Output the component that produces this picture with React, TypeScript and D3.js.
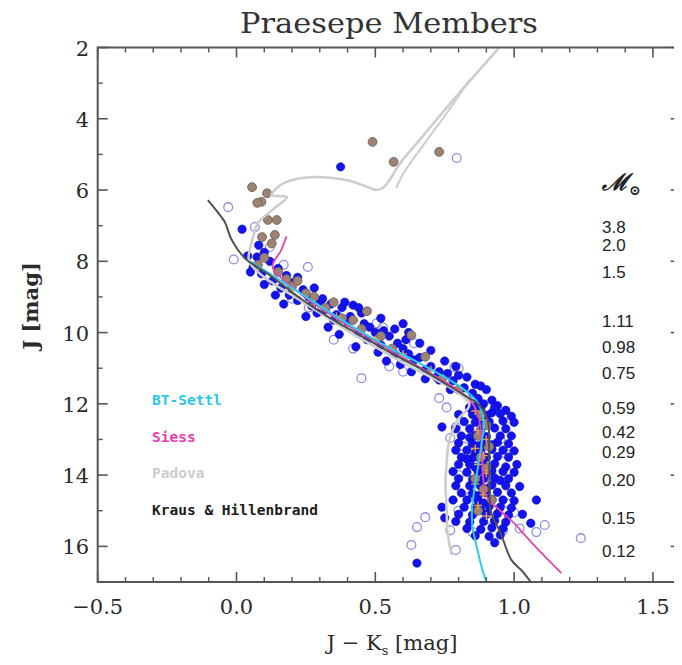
import React from "react";
import * as d3 from "d3";

// ---- Axis ticks ----
const xMajorTicks = [-0.5, 0.0, 0.5, 1.0, 1.5];
const yMajorTicks = [2, 4, 6, 8, 10, 12, 14, 16];

// ---- Mass scale labels (solar masses) and the J level at which each sits ----
const massLabels = ["3.8", "2.0", "1.5", "1.11", "0.98", "0.75", "0.59", "0.42", "0.29", "0.20", "0.15", "0.12"];
const massLabelJ = [7.05, 7.55, 8.3, 9.68, 10.41, 11.14, 12.12, 12.80, 13.36, 14.15, 15.19, 16.14];

// ---- Legend ----
const legendNames = ["BT-Settl", "Siess", "Padova", "Kraus & Hillenbrand"];
const legendColors = ["#2cc6ec", "#e83cb4", "#cccccc", "#1c1c1c"];

// ---- Model isochrones: [J-Ks, J] ----
const btSettl: [number, number][] = [
  [0.05, 8.0], [0.15, 8.5], [0.25, 9.0], [0.35, 9.5], [0.45, 9.98], [0.55, 10.42], [0.65, 10.82],
  [0.75, 11.25], [0.82, 11.6], [0.87, 11.98], [0.89, 12.5], [0.885, 13.0], [0.875, 13.5],
  [0.865, 14.0], [0.855, 14.5], [0.848, 15.0], [0.85, 15.46], [0.865, 16.0], [0.883, 16.58], [0.9, 17.0],
];
const siess: [number, number][] = [
  [0.18, 7.3], [0.16, 7.7], [0.13, 8.15], [0.2, 8.72], [0.3, 9.3], [0.4, 9.8], [0.5, 10.25],
  [0.6, 10.7], [0.7, 11.15], [0.78, 11.52], [0.84, 11.88], [0.87, 12.3], [0.88, 12.8],
  [0.885, 13.5], [0.89, 14.2], [0.9, 14.6], [0.95, 15.0], [1.0, 15.35], [1.045, 15.74],
  [1.1, 16.2], [1.17, 16.75],
];
const padova: [number, number][] = [
  [0.775, 16.25], [0.76, 15.6], [0.757, 14.98], [0.753, 14.3], [0.755, 13.86], [0.767, 13.02],
  [0.796, 12.46], [0.839, 12.03], [0.8, 11.7], [0.7, 11.25], [0.6, 10.85], [0.5, 10.4],
  [0.4, 9.95], [0.3, 9.45], [0.2, 8.95], [0.1, 8.45], [0.045, 8.0], [0.05, 7.6], [0.062, 7.25],
  [0.077, 6.93], [0.13, 6.55], [0.181, 6.2], [0.127, 6.14], [0.16, 5.85], [0.192, 5.74],
  [0.25, 5.65], [0.311, 5.64], [0.38, 5.7], [0.433, 5.8], [0.48, 5.94], [0.505, 6.0],
  [0.53, 5.92], [0.551, 5.72], [0.575, 5.42], [0.598, 5.16], [0.659, 4.6], [0.75, 3.75],
  [0.85, 2.85], [0.947, 2.0],
];
const padovaUpper: [number, number][] = [
  [0.575, 5.95], [0.6, 5.55], [0.63, 5.2], [0.7, 4.45], [0.77, 3.7], [0.84, 2.9],
];
const krausHillenbrand: [number, number][] = [
  [-0.103, 6.28], [-0.07, 6.6], [-0.042, 6.9], [-0.03, 7.15], [-0.017, 7.4], [0.03, 7.91],
  [0.12, 8.39], [0.228, 9.03], [0.336, 9.59], [0.444, 10.07], [0.551, 10.55], [0.659, 11.0],
  [0.749, 11.42], [0.821, 11.76], [0.875, 12.04], [0.905, 12.46], [0.91, 13.3], [0.911, 14.14],
  [0.912, 14.7], [0.918, 15.07], [0.95, 15.6], [0.99, 16.38], [1.03, 16.7], [1.06, 17.0],
];

// ---- Cluster members ----
const blueMembers: [number, number][] = [
  [0.375, 5.35], [0.02, 7.1], [0.074, 7.88], [0.08, 7.55], [0.1, 7.75], [0.04, 7.85], [0.12, 8.0],
  [0.06, 8.15], [0.15, 8.2], [0.09, 8.35], [0.18, 8.4], [0.13, 8.55], [0.2, 8.6], [0.16, 8.75],
  [0.24, 8.8], [0.19, 8.95], [0.26, 9.0], [0.22, 9.1], [0.3, 9.15], [0.27, 9.25], [0.34, 9.2],
  [0.32, 9.35], [0.38, 9.3], [0.29, 9.45], [0.36, 9.5], [0.41, 9.55], [0.35, 9.65], [0.42, 9.23],
  [0.45, 9.45], [0.4, 9.7], [0.46, 9.75], [0.5, 10.0], [0.48, 9.85], [0.53, 9.95], [0.44, 10.0],
  [0.55, 10.1], [0.61, 10.2], [0.58, 10.3], [0.52, 10.35], [0.64, 10.77], [0.6, 10.45],
  [0.62, 10.6], [0.57, 10.6], [0.66, 10.7], [0.7, 10.95], [0.68, 11.05], [0.73, 11.1],
  [0.76, 11.15], [0.72, 11.25], [0.8, 11.2], [0.83, 11.25], [0.78, 11.35], [0.86, 11.45],
  [0.88, 11.5], [0.82, 11.55], [0.85, 11.7], [0.9, 11.6], [0.87, 11.85], [0.92, 11.9],
  [0.89, 12.0], [0.94, 12.05], [0.84, 12.1], [0.73, 11.33], [0.92, 12.25], [0.74, 12.65],
  [0.05, 8.3], [0.1, 8.65], [0.14, 8.95], [0.22, 8.45], [0.28, 8.75], [0.17, 9.2], [0.25, 9.55],
  [0.33, 9.85], [0.39, 9.15], [0.44, 9.3], [0.31, 9.05], [0.37, 10.05], [0.47, 10.2], [0.51, 10.55],
  [0.43, 10.4], [0.54, 10.8], [0.59, 10.9], [0.63, 11.1], [0.52, 9.6], [0.57, 9.9], [0.62, 10.0],
  [0.66, 10.3], [0.7, 10.5], [0.75, 10.8], [0.79, 10.95], [0.6, 9.75], [0.68, 11.3], [0.77, 11.6],
  [0.84, 12.12], [0.88, 12.15], [0.93, 12.1], [0.97, 12.18], [0.86, 12.08],
  [0.8, 12.3], [0.85, 12.3], [0.9, 12.32], [0.95, 12.28], [0.99, 12.35], [0.87, 12.4],
  [0.82, 12.5], [0.86, 12.52], [0.91, 12.5], [0.96, 12.48], [0.89, 12.55], [1.0, 12.52],
  [0.79, 12.7], [0.84, 12.7], [0.88, 12.72], [0.93, 12.68], [0.97, 12.7],
  [0.81, 12.9], [0.86, 12.88], [0.9, 12.92], [0.95, 12.9], [0.99, 12.9], [0.84, 12.95],
  [0.8, 13.1], [0.85, 13.12], [0.89, 13.1], [0.94, 13.08], [0.98, 13.12], [0.87, 13.18], [0.92, 13.15],
  [0.79, 13.3], [0.83, 13.3], [0.88, 13.32], [0.92, 13.28], [0.96, 13.3], [1.0, 13.32], [0.86, 13.38],
  [0.81, 13.5], [0.85, 13.52], [0.9, 13.5], [0.94, 13.48], [0.98, 13.5], [0.88, 13.58], [0.83, 13.55],
  [0.8, 13.7], [0.84, 13.7], [0.89, 13.72], [0.93, 13.68], [0.97, 13.77], [1.01, 13.7], [0.86, 13.78],
  [0.78, 13.9], [0.83, 13.92], [0.87, 13.9], [0.92, 13.88], [0.96, 13.9], [0.9, 13.96], [1.0, 13.92],
  [0.8, 14.1], [0.85, 14.12], [0.89, 14.1], [0.93, 14.08], [0.98, 14.1], [0.87, 14.18], [0.95, 14.15],
  [0.79, 14.3], [0.84, 14.3], [0.88, 14.32], [0.92, 14.28], [0.97, 14.3], [1.02, 14.32], [0.9, 14.38],
  [0.81, 14.5], [0.85, 14.52], [0.9, 14.5], [0.94, 14.48], [0.99, 14.5], [0.87, 14.58], [1.08, 14.7],
  [0.78, 14.7], [0.83, 14.7], [0.87, 14.72], [0.92, 14.68], [0.96, 14.7], [1.0, 14.72], [0.89, 14.78],
  [0.74, 14.9], [0.82, 14.9], [0.86, 14.92], [0.91, 14.88], [0.95, 14.9], [0.99, 14.92], [0.88, 14.98],
  [0.75, 15.2], [0.8, 15.1], [0.85, 15.12], [0.9, 15.1], [0.94, 15.08], [0.98, 15.12], [1.03, 15.1],
  [0.79, 15.3], [0.84, 15.32], [0.89, 15.3], [0.93, 15.28], [0.97, 15.32], [1.06, 15.35],
  [0.83, 15.5], [0.88, 15.52], [0.92, 15.48], [0.96, 15.5],
  [0.86, 15.7], [0.91, 15.72], [0.95, 15.68], [0.93, 15.9], [0.65, 16.47],
];
const openMembers: [number, number][] = [
  [0.793, 5.1], [-0.03, 6.48], [0.066, 7.04], [0.12, 7.6], [-0.01, 7.95], [0.257, 8.16],
  [0.17, 8.1], [0.2, 9.05], [0.26, 9.3], [0.3, 9.3], [0.38, 9.7], [0.505, 9.74], [0.527, 9.85],
  [0.64, 10.3], [0.45, 11.28], [0.785, 10.97], [0.8, 11.0], [0.73, 11.84], [0.757, 12.1],
  [0.79, 12.65], [0.77, 12.96], [0.6, 11.1], [0.35, 10.2], [0.42, 10.45], [0.55, 10.95],
  [0.82, 13.2], [0.95, 13.0], [0.86, 13.6], [0.97, 13.4], [0.8, 14.0], [0.92, 14.2],
  [0.84, 14.6], [0.98, 14.8], [0.8, 15.0], [0.9, 15.25], [0.96, 15.55], [0.85, 15.6],
  [0.68, 15.18], [0.65, 15.46], [0.63, 15.96], [0.79, 16.1], [1.24, 15.77], [1.08, 15.6],
  [1.02, 15.5], [1.11, 15.4], [1.0, 15.05], [0.77, 15.55],
];
const brownMembers: [number, number][] = [
  [0.49, 4.65], [0.566, 5.21], [0.73, 4.93], [0.056, 5.92], [0.11, 6.09], [0.09, 6.33],
  [0.075, 6.36], [0.113, 6.84], [0.145, 6.84], [0.138, 7.26], [0.092, 7.32], [0.127, 7.5],
  [0.077, 8.1], [0.1, 7.9], [0.18, 8.5], [0.25, 8.9], [0.32, 9.3], [0.2, 8.7], [0.47, 9.4],
  [0.38, 9.6], [0.45, 9.9], [0.63, 10.07], [0.68, 10.68], [0.56, 10.45], [0.74, 11.3],
  [0.8, 11.6], [0.15, 8.3], [0.22, 8.55], [0.28, 9.0], [0.35, 9.15], [0.42, 9.65], [0.52, 10.1],
  [0.88, 12.3], [0.9, 12.6], [0.87, 12.9], [0.91, 13.2], [0.88, 13.5],
  [0.9, 13.8], [0.86, 14.1], [0.89, 14.4], [0.92, 14.7], [0.87, 15.0],
];
const orangeMarks: [number, number][] = [
  [0.2, 8.8], [0.28, 9.2], [0.36, 9.55], [0.5, 10.2], [0.6, 10.6], [0.7, 11.05],
  [0.86, 12.2], [0.89, 12.45], [0.87, 12.75], [0.9, 13.0], [0.86, 13.25], [0.89, 13.45],
  [0.87, 13.7], [0.9, 13.95], [0.86, 14.25], [0.89, 14.55], [0.87, 14.85], [0.9, 15.15],
];

const W = 682;
const H = 665;
const left = 97.7, right = 680.7, top = 47.5, bottom = 582;

export default function App() {
  const x = d3.scaleLinear().domain([-0.5, 1.6]).range([left, right]);
  const y = d3.scaleLinear().domain([2, 17]).range([top, bottom]);
  const line = d3
    .line<[number, number]>()
    .x((d) => x(d[0]))
    .y((d) => y(d[1]))
    .curve(d3.curveCatmullRom.alpha(0.5));

  const xMinor = d3.range(-5, 16).map((i) => i / 10).filter((v) => !xMajorTicks.some((m) => Math.abs(m - v) < 1e-6));
  const yMinor = d3.range(3, 17, 2);
  const fmt = d3.format(".1f");
  const axisColor = "#555";
  const serif = "'DejaVu Serif', 'Liberation Serif', serif";

  return (
    <svg width={W} height={H} viewBox={`0 0 ${W} ${H}`} style={{ display: "block", background: "#fff", margin: -8 }}>
      <rect width={W} height={H} fill="#fff" />
      <text x={389} y={33} textAnchor="middle" fontFamily={serif} fontSize={28} fill="#333" textLength={298} lengthAdjust="spacingAndGlyphs">
        Praesepe Members
      </text>

      <defs>
        <clipPath id="plotClip">
          <rect x={left} y={top} width={right - left} height={bottom - top} />
        </clipPath>
      </defs>

      <g clipPath="url(#plotClip)">
        {openMembers.map((d, i) => (
          <circle key={"o" + i} cx={x(d[0])} cy={y(d[1])} r={4.4} fill="none" stroke="#8e8ee6" strokeWidth={1.3} />
        ))}
        {blueMembers.map((d, i) => (
          <circle key={"b" + i} cx={x(d[0])} cy={y(d[1])} r={4.2} fill="#1212f2" stroke="#0a0aa8" strokeWidth={0.6} />
        ))}
        {brownMembers.map((d, i) => (
          <circle key={"r" + i} cx={x(d[0])} cy={y(d[1])} r={4.4} fill="#a08272" stroke="#6f6a68" strokeWidth={1} />
        ))}
        {orangeMarks.map((d, i) => (
          <g key={"m" + i} stroke="#eaa23c" strokeWidth={1.4}>
            <line x1={x(d[0]) - 4} x2={x(d[0]) + 4} y1={y(d[1])} y2={y(d[1])} />
            <line x1={x(d[0])} x2={x(d[0])} y1={y(d[1]) - 4} y2={y(d[1]) + 4} />
          </g>
        ))}

        <path d={line(padova) || ""} fill="none" stroke="#cdcdcd" strokeWidth={2.6} />
        <path d={line(padovaUpper) || ""} fill="none" stroke="#cdcdcd" strokeWidth={2} />
        <path d={line(siess) || ""} fill="none" stroke="#e048aa" strokeWidth={1.8} />
        <path d={line(btSettl) || ""} fill="none" stroke="#2ccbef" strokeWidth={2} />
        <path d={line(krausHillenbrand) || ""} fill="none" stroke="#505050" strokeWidth={2} />
      </g>

      {/* frame */}
      <rect x={left} y={top} width={right - left} height={bottom - top} fill="none" stroke={axisColor} strokeWidth={2} />

      {/* x ticks, bottom and top */}
      {xMajorTicks.map((v) => (
        <g key={"xm" + v} stroke={axisColor} strokeWidth={1.6}>
          <line x1={x(v)} x2={x(v)} y1={bottom} y2={bottom - 10} />
          <line x1={x(v)} x2={x(v)} y1={top} y2={top + 10} />
        </g>
      ))}
      {xMinor.map((v) => (
        <g key={"xn" + v} stroke={axisColor} strokeWidth={1.4}>
          <line x1={x(v)} x2={x(v)} y1={bottom} y2={bottom - 5} />
          <line x1={x(v)} x2={x(v)} y1={top} y2={top + 5} />
        </g>
      ))}
      {/* y ticks, left and right */}
      {yMajorTicks.map((v) => (
        <g key={"ym" + v} stroke={axisColor} strokeWidth={1.6}>
          <line x1={left} x2={left + 10} y1={y(v)} y2={y(v)} />
          <line x1={right} x2={right - 10} y1={y(v)} y2={y(v)} />
        </g>
      ))}
      {yMinor.map((v) => (
        <g key={"yn" + v} stroke={axisColor} strokeWidth={1.4}>
          <line x1={left} x2={left + 5} y1={y(v)} y2={y(v)} />
          <line x1={right} x2={right - 5} y1={y(v)} y2={y(v)} />
        </g>
      ))}

      {xMajorTicks.map((v) => (
        <text key={"xl" + v} x={x(v)} y={614} textAnchor="middle" fontFamily={serif} fontSize={21} fill="#2a2a2a">
          {fmt(v)}
        </text>
      ))}
      {yMajorTicks.map((v) => (
        <text key={"yl" + v} x={89} y={y(v) + 8} textAnchor="end" fontFamily={serif} fontSize={21} fill="#2a2a2a">
          {v}
        </text>
      ))}

      <text x={392} y={650} textAnchor="middle" fontFamily={serif} fontSize={21} fill="#2a2a2a">
        J − K<tspan fontSize={13} dy={5}>s</tspan>
        <tspan dy={-5}> [mag]</tspan>
      </text>
      <text transform={`translate(38, 306) rotate(-90)`} textAnchor="middle" fontFamily={serif} fontSize={21} fontWeight="bold" fill="#2a2a2a">
        J [mag]
      </text>

      {/* mass scale */}
      <text x={602} y={190} fontFamily="'DejaVu Serif', serif" fontStyle="italic" fontWeight="bold" fontSize={23} fill="#222">
        ℳ<tspan fontSize={14} dy={5} fontStyle="normal">⊙</tspan>
      </text>
      {massLabels.map((m, i) => (
        <text key={"ms" + i} x={602} y={y(massLabelJ[i]) + 6} fontFamily="'Liberation Sans', Arial, sans-serif" fontSize={17} fill="#222">
          {m}
        </text>
      ))}

      {/* legend */}
      {legendNames.map((n, i) => (
        <text key={"lg" + i} x={152} y={405 + i * 36.5} fontFamily="'DejaVu Sans Mono', monospace" fontWeight="bold" fontSize={14.5} fill={legendColors[i]}>
          {n}
        </text>
      ))}
    </svg>
  );
}
